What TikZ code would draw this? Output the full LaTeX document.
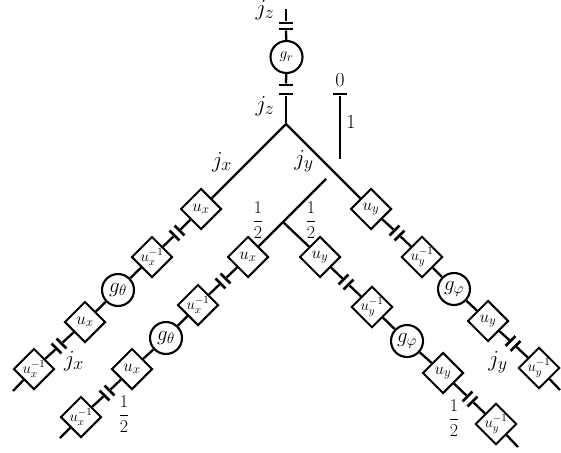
\RequirePackage{fix-cm}
\documentclass[tikz,border=0pt]{standalone}
\usetikzlibrary{shapes.geometric}
\newcommand{\fs}[1]{\fontsize{#1}{#1}\selectfont}
\DeclareMathSizes{17}{17}{13}{10}
\DeclareMathSizes{15}{15}{11}{8.5}
\DeclareMathSizes{21}{21}{15}{12}
\DeclareMathSizes{15.5}{15.5}{13}{10}
\DeclareMathSizes{23}{23}{18}{14}
\DeclareMathSizes{20}{20}{15}{12}
\DeclareMathSizes{18}{18}{13}{10}
\tikzset{
  x=1pt,y=-1pt,
  wire/.style={line width=2.3pt,line cap=butt},
  gate/.style={draw,line width=2pt,diamond,aspect=1,minimum width=41pt,minimum height=41pt,inner sep=0pt,fill=white},
  ugate/.style={gate,font=\fs{17}},
  uinv/.style={gate,font=\fs{15}},
  circ/.style={draw,line width=2.1pt,circle,minimum size=32pt,inner sep=0pt,fill=white,font=\fs{21}},
  bar/.style={fill=black,inner sep=0pt,minimum width=14pt,minimum height=2.6pt},
  barL/.style={bar,rotate=-45},
  barR/.style={bar,rotate=45},
  lab/.style={inner sep=0pt,font=\fs{23}},
  dgt/.style={inner sep=0pt,font=\fs{20}},
  frc/.style={inner sep=0pt,font=\fs{18}},
}
\begin{document}
\begin{tikzpicture}
\useasboundingbox (0,0) rectangle (561,452);
\clip (0,0) rectangle (561,452);
% top chain
\coordinate (top) at (286,9);
\node[bar] (tb1) at (286,23) {};
\node[bar] (tb2) at (286,29) {};
\node[circ,font=\fs{15.5}] (gr) at (286.5,57) {$g_r$};
\node[bar] (tb3) at (286,85) {};
\node[bar] (tb4) at (286,94) {};
\coordinate (root) at (286,124);
\draw[wire] (top) -- (tb1);
\draw[wire] (tb2) -- (gr);
\draw[wire] (gr) -- (tb3);
\draw[wire] (tb4) -- (root);
% scale bar
\node[bar] (sb) at (340,94) {};
\coordinate (sbe) at (340,159);
\draw[wire] (sb) -- (sbe);
% outer left
\node[ugate] (a1) at (201,209) {$u_x$};
\node[barL] (a2) at (174.5,235.5) {};
\node[barL] (a3) at (179.5,230.5) {};
\node[uinv] (a4) at (152,257) {$u_x^{-1}$};
\node[circ] (a5) at (118,290) {$g_\theta$};
\node[ugate] (a6) at (85,322) {$u_x$};
\node[barL] (a7) at (56.5,348.5) {};
\node[barL] (a8) at (61.5,343.5) {};
\node[uinv] (a9) at (34,369) {$u_x^{-1}$};
\coordinate (aend) at (13,391);
\draw[wire] (root) -- (a1);
\draw[wire] (a1) -- (a3);
\draw[wire] (a2) -- (a4);
\draw[wire] (a4) -- (a5);
\draw[wire] (a5) -- (a6);
\draw[wire] (a6) -- (a8);
\draw[wire] (a7) -- (a9);
\draw[wire] (a9) -- (aend);
% outer right
\node[ugate] (b1) at (371,209) {$u_y$};
\node[barR] (b2) at (394.5,230.5) {};
\node[barR] (b3) at (399.5,235.5) {};
\node[uinv] (b4) at (422,257) {$u_y^{-1}$};
\node[circ] (b5) at (454,289) {$g_\varphi$};
\node[ugate] (b6) at (488,321) {$u_y$};
\node[barR] (b7) at (510.5,341) {};
\node[barR] (b8) at (515.5,346) {};
\node[uinv] (b9) at (539,368) {$u_y^{-1}$};
\coordinate (bend) at (560,390);
\draw[wire] (root) -- (b1);
\draw[wire] (b1) -- (b2);
\draw[wire] (b3) -- (b4);
\draw[wire] (b4) -- (b5);
\draw[wire] (b5) -- (b6);
\draw[wire] (b6) -- (b7);
\draw[wire] (b8) -- (b9);
\draw[wire] (b9) -- (bend);
% inner branch
\coordinate (fork) at (283,222);
\coordinate (ftop) at (326,179);
\draw[wire] (fork) -- (ftop);
% inner left
\node[ugate] (c1) at (248,257) {$u_x$};
\node[barL] (c2) at (220.5,283.5) {};
\node[barL] (c3) at (225.5,278.5) {};
\node[uinv] (c4) at (198,305) {$u_x^{-1}$};
\node[circ] (c5) at (166,338) {$g_\theta$};
\node[ugate] (c6) at (132,369) {$u_x$};
\node[barL] (c7) at (104.5,395.5) {};
\node[barL] (c8) at (109.5,390.5) {};
\node[uinv] (c9) at (81,417) {$u_x^{-1}$};
\coordinate (cend) at (60,438);
\draw[wire] (fork) -- (c1);
\draw[wire] (c1) -- (c3);
\draw[wire] (c2) -- (c4);
\draw[wire] (c4) -- (c5);
\draw[wire] (c5) -- (c6);
\draw[wire] (c6) -- (c8);
\draw[wire] (c7) -- (c9);
\draw[wire] (c9) -- (cend);
% inner right
\node[ugate] (d1) at (320,257) {$u_y$};
\node[barR] (d2) at (343.5,279.5) {};
\node[barR] (d3) at (348.5,284.5) {};
\node[uinv] (d4) at (372,307) {$u_y^{-1}$};
\node[circ] (d5) at (407,341) {$g_\varphi$};
\node[ugate] (d6) at (443,373) {$u_y$};
\node[barR] (d7) at (467.5,396.5) {};
\node[barR] (d8) at (472.5,401.5) {};
\node[uinv] (d9) at (496,424) {$u_y^{-1}$};
\coordinate (dend) at (518,447);
\draw[wire] (fork) -- (d1);
\draw[wire] (d1) -- (d2);
\draw[wire] (d3) -- (d4);
\draw[wire] (d4) -- (d5);
\draw[wire] (d5) -- (d6);
\draw[wire] (d6) -- (d7);
\draw[wire] (d8) -- (d9);
\draw[wire] (d9) -- (dend);
% labels
\node[lab] (l1) at (265,10) {$j_z$};
\node[lab] (l2) at (265,106) {$j_z$};
\node[lab] (l3) at (222,162) {$j_x$};
\node[lab] (l4) at (304,161) {$j_y$};
\node[lab] (l5) at (74,361) {$j_x$};
\node[lab] (l6) at (498,362) {$j_y$};
\node[dgt] (l7) at (340,80) {$0$};
\node[dgt] (l8) at (351,122) {$1$};
\node[frc] (l9) at (258,220) {$\displaystyle\frac{1}{2}$};
\node[frc] (l10) at (311,220) {$\displaystyle\frac{1}{2}$};
\node[frc] (l11) at (124,414) {$\displaystyle\frac{1}{2}$};
\node[frc] (l12) at (454,418) {$\displaystyle\frac{1}{2}$};
\end{tikzpicture}
\end{document}
